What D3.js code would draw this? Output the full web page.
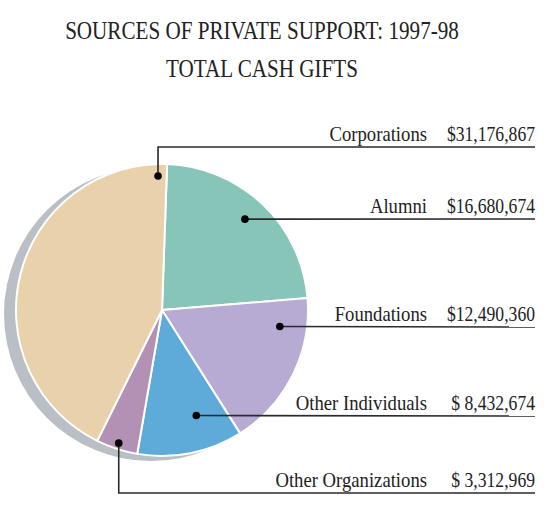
<!DOCTYPE html>
<html>
<head>
<meta charset="utf-8">
<script src="https://cdn.jsdelivr.net/npm/d3@7"></script>
<style>
  body { margin: 0; background: #fff; }
  text { font-family: "Liberation Serif", "DejaVu Serif", serif; fill: #222; }
</style>
</head>
<body>
<div id="vizContainer"></div>
<script>
// data, clockwise from the top
let categories = ["Alumni", "Foundations", "Other Individuals", "Other Organizations", "Corporations"];
let amounts = [16680674, 12490360, 8432674, 3312969, 31176867];
let amountLabels = ["$16,680,674", "$12,490,360", "$ 8,432,674", "$ 3,312,969", "$31,176,867"];
let titleLines = ["SOURCES OF PRIVATE SUPPORT: 1997-98", "TOTAL CASH GIFTS"];

let colors = ["#87c5b9", "#b7abd4", "#5eabd9", "#b391b4", "#e8d1ab"];

let w = 550;
let h = 507;
let cx = 162;
let cy = 310;
let r = 146;

// leader layout: dot angle (deg from north), dot distance, y of label rule
let leaders = [
  {angle: 42.4, dist: 123, ruleY: 219},
  {angle: 98, dist: 119, ruleY: 327},
  {angle: 162, dist: 111, ruleY: 416},
  {angle: 198, dist: 140, ruleY: 493},
  {angle: -1.7, dist: 134, ruleY: 147}
];

let viz = d3.select("#vizContainer").append("svg")
    .attr("width", w)
    .attr("height", h)
;

// condensed-looking text: horizontal scale on a positioned text
function addText(parent, x, y, str, size, k, anchor) {
  return parent.append("text")
      .attr("transform", "translate(" + x + "," + y + ") scale(" + k + ",1)")
      .attr("text-anchor", anchor)
      .style("font-size", size + "px")
      .text(str);
}

// title
let title = viz.append("g").attr("class", "title");
titleLines.forEach((t, i) => {
  addText(title, 262, 39 + i * 37.5, t, 25, 0.845, "middle");
});

// shadow behind the pie
viz.append("circle")
    .attr("cx", cx - 11)
    .attr("cy", cy + 4)
    .attr("r", r + 1)
    .attr("fill", "#b9bfc5")
;

let pie = d3.pie()
    .sort(null)
    .startAngle(2 * Math.PI / 180)
    .endAngle(2 * Math.PI + 2 * Math.PI / 180)
;
let arc = d3.arc().innerRadius(0).outerRadius(r);

let pieGroup = viz.append("g")
    .attr("transform", "translate(" + cx + "," + cy + ")");

pieGroup.selectAll("path")
  .data(pie(amounts))
  .enter()
  .append("path")
    .attr("d", arc)
    .attr("fill", (d, i) => colors[i])
    .attr("stroke", "#fff")
    .attr("stroke-width", 2)
    .attr("stroke-linejoin", "round")
;

// leaders and labels
let ruleEnd = 535;
let labels = viz.append("g").attr("class", "labels");
categories.forEach((c, i) => {
  let L = leaders[i];
  let a = L.angle * Math.PI / 180;
  let dx = cx + L.dist * Math.sin(a);
  let dy = cy - L.dist * Math.cos(a);

  let path = d3.path();
  path.moveTo(dx, dy);
  if (Math.abs(dy - L.ruleY) > 1) {
    path.lineTo(dx, L.ruleY);
  }
  path.lineTo(ruleEnd, L.ruleY);

  labels.append("path")
      .attr("d", path.toString())
      .attr("fill", "none")
      .attr("stroke", "#2a2a2a")
      .attr("stroke-width", 1.6)
  ;
  labels.append("circle")
      .attr("cx", dx)
      .attr("cy", dy)
      .attr("r", 3.8)
      .attr("fill", "#000")
  ;

  addText(labels, 427, L.ruleY - 6, c, 21, 0.89, "end");
  addText(labels, ruleEnd, L.ruleY - 6, amountLabels[i], 21, 0.84, "end");
});
</script>
</body>
</html>
